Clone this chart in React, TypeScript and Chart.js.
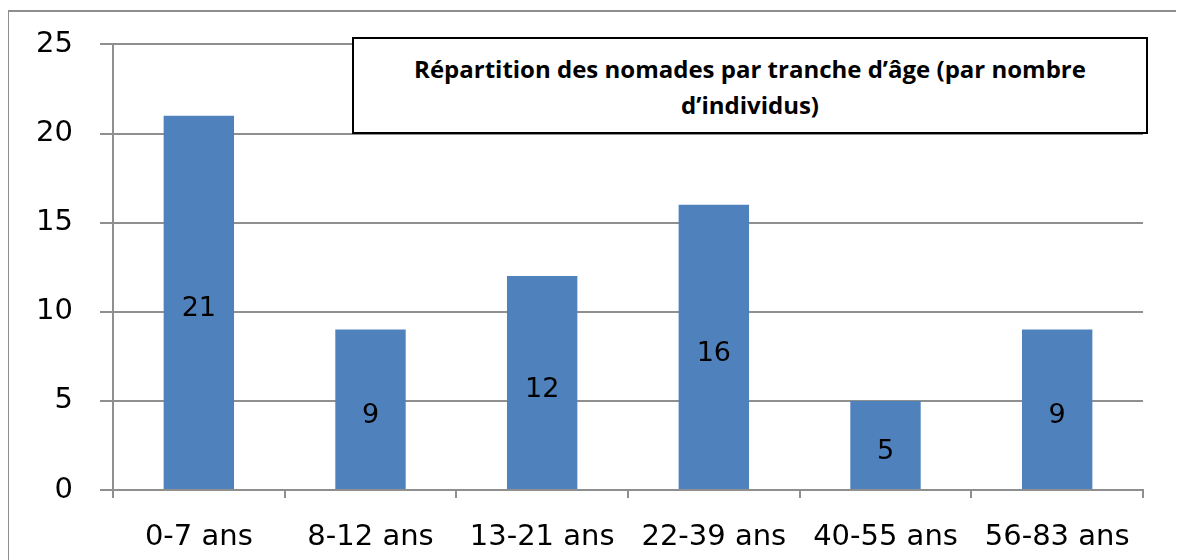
import React, { useEffect, useRef } from "react";
import { Chart, registerables } from "chart.js";

Chart.register(...registerables);

const categories = ["0-7 ans", "8-12 ans", "13-21 ans", "22-39 ans", "40-55 ans", "56-83 ans"];
const values = [21, 9, 12, 16, 5, 9];
const yTicks = [0, 5, 10, 15, 20, 25];
const titleLines = ["Répartition des nomades par tranche d’âge (par nombre", "d’individus)"];

const BAR_COLOR = "#4f81bd";
const GRID_COLOR = "#8f8f8f";
const AXIS_FONT = "'DejaVu Sans', Verdana, sans-serif";

const valueLabels = {
  id: "valueLabels",
  afterDatasetsDraw(chart: any) {
    const ctx = chart.ctx;
    const meta = chart.getDatasetMeta(0);
    ctx.save();
    ctx.font = `27px ${AXIS_FONT}`;
    ctx.fillStyle = "#000";
    ctx.textAlign = "center";
    ctx.textBaseline = "middle";
    meta.data.forEach((bar: any, i: number) => {
      const v = chart.data.datasets[0].data[i];
      const mid = (bar.y + bar.base) / 2 + 7;
      ctx.fillText(String(v), bar.x, mid);
    });
    ctx.restore();
  },
};

export default function App() {
  const ref = useRef<HTMLCanvasElement>(null);
  useEffect(() => {
    if (!ref.current) return;
    const chart = new Chart(ref.current, {
      type: "bar",
      data: {
        labels: categories,
        datasets: [
          {
            data: values,
            backgroundColor: BAR_COLOR,
            borderWidth: 0,
            barPercentage: 0.41,
            categoryPercentage: 1,
          },
        ],
      },
      options: {
        animation: false,
        responsive: false,
        maintainAspectRatio: false,
        layout: { padding: { left: 0, right: 41, top: 43.5, bottom: 0 } },
        plugins: { legend: { display: false }, title: { display: false }, tooltip: { enabled: false } },
        scales: {
          x: {
            offset: true,
            grid: {
              offset: true,
              drawOnChartArea: false,
              drawTicks: true,
              tickLength: 8,
              color: GRID_COLOR,
              lineWidth: 2,
            },
            border: { display: true, color: GRID_COLOR, width: 2 },
            ticks: {
              color: "#000",
              font: { family: AXIS_FONT, size: 29 },
              padding: 22,
              maxRotation: 0,
              autoSkip: false,
            },
            afterFit(scale: any) {
              scale.height = 70;
            },
          },
          y: {
            min: 0,
            max: 25,
            afterBuildTicks(scale: any) {
              scale.ticks = yTicks.map((v) => ({ value: v }));
            },
            grid: {
              drawTicks: true,
              tickLength: 13,
              color: GRID_COLOR,
              lineWidth: 2,
            },
            border: { display: true, color: GRID_COLOR, width: 2 },
            ticks: {
              color: "#000",
              font: { family: AXIS_FONT, size: 29 },
              padding: 27,
            },
            afterFit(scale: any) {
              scale.width = 113;
            },
          },
        },
      },
      plugins: [valueLabels],
    });
    return () => chart.destroy();
  }, []);

  return (
    <div style={{ position: "relative", width: 1184, height: 560, margin: "-8px 0 0 -8px", overflow: "hidden", background: "#fff" }}>
      <canvas ref={ref} width={1184} height={560} style={{ position: "absolute", left: 0, top: 0 }} />
      <div
        style={{
          position: "absolute",
          left: 7,
          top: 10,
          width: 1250,
          height: 650,
          border: `2px solid ${GRID_COLOR}`,
          pointerEvents: "none",
        }}
      />
      <div
        style={{
          position: "absolute",
          left: 352,
          top: 37,
          width: 796,
          height: 97,
          boxSizing: "border-box",
          border: "2px solid #000",
          background: "#fff",
          display: "flex",
          flexDirection: "column",
          alignItems: "center",
          justifyContent: "center",
          fontFamily: "'Open Sans', Lato, sans-serif",
          fontWeight: 700,
          fontSize: 24,
          lineHeight: "36px",
          color: "#000",
          textAlign: "center",
          paddingTop: 2,
        }}
      >
        <div>{titleLines[0]}</div>
        <div>{titleLines[1]}</div>
      </div>
    </div>
  );
}
